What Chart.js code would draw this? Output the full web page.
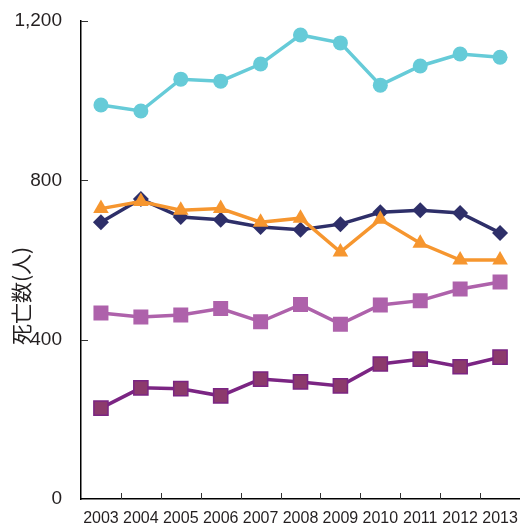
<!DOCTYPE html>
<html lang="ja">
<head>
    <meta charset="UTF-8">
    <title>死亡数の推移</title>
    <script src="https://cdn.jsdelivr.net/npm/chart.js"></script>
    <style>
        html, body {
            margin: 0;
            padding: 0;
            background: white;
        }
        canvas {
            display: block;
        }
    </style>
</head>
<body>

    <canvas id="deathChart" width="520" height="526"></canvas>

    <script>
        // data
        const years = ['2003', '2004', '2005', '2006', '2007', '2008', '2009', '2010', '2011', '2012', '2013'];
        const cyanValues   = [989, 974, 1054, 1049, 1092, 1165, 1145, 1039, 1087, 1117, 1109];
        const navyValues   = [695, 753, 708, 701, 683, 676, 690, 720, 725, 718, 668];
        const orangeValues = [729, 747, 725, 729, 695, 705, 620, 702, 642, 600, 600];
        const pinkValues   = [467, 457, 462, 478, 445, 488, 439, 487, 498, 527, 545];
        const purpleValues = [228, 279, 277, 259, 301, 294, 284, 339, 351, 332, 356];
        const yTicks = [0, 400, 800, 1200];
        const yTitle = '死亡数(人)';

        const numFont = '"Liberation Sans", Arial, sans-serif';
        const textColor = '#231f20';

        // inward tick marks + the rotated y title
        const axisExtras = {
            id: 'axisExtras',
            afterDraw(chart) {
                const ctx = chart.ctx;
                const area = chart.chartArea;
                const x = chart.scales.x;
                const y = chart.scales.y;
                ctx.save();
                ctx.strokeStyle = '#333333';
                ctx.lineWidth = 1;
                yTicks.forEach(v => {
                    if (v === 0) return;
                    const py = Math.round(y.getPixelForValue(v)) + 0.5;
                    ctx.beginPath();
                    ctx.moveTo(area.left, py);
                    ctx.lineTo(area.left + 7, py);
                    ctx.stroke();
                });
                for (let i = 1; i < years.length; i++) {
                    const px = Math.round((x.getPixelForValue(i - 1) + x.getPixelForValue(i)) / 2) + 0.5;
                    ctx.beginPath();
                    ctx.moveTo(px, area.bottom);
                    ctx.lineTo(px, area.bottom - 6);
                    ctx.stroke();
                }
                // y axis title
                ctx.translate(21, 296);
                ctx.rotate(-Math.PI / 2);
                ctx.fillStyle = textColor;
                ctx.font = '21px "Noto Sans CJK JP", sans-serif';
                ctx.textAlign = 'center';
                ctx.textBaseline = 'middle';
                ctx.fillText(yTitle, 0, 0);
                ctx.restore();
            }
        };

        const ctx = document.getElementById('deathChart').getContext('2d');
        const deathChart = new Chart(ctx, {
            type: 'line',
            data: {
                labels: years,
                datasets: [
                    {
                        data: orangeValues,
                        borderColor: '#f6962f',
                        backgroundColor: '#f6962f',
                        borderWidth: 3.5,
                        pointStyle: 'triangle',
                        pointRadius: 9,
                        pointBorderWidth: 0,
                        order: 1
                    },
                    {
                        data: navyValues,
                        borderColor: '#2e2f69',
                        backgroundColor: '#2e2f69',
                        borderWidth: 3.5,
                        pointStyle: 'rectRot',
                        pointRadius: 8,
                        pointBorderWidth: 0,
                        order: 2
                    },
                    {
                        data: cyanValues,
                        borderColor: '#66cbd8',
                        backgroundColor: '#66cbd8',
                        borderWidth: 3.5,
                        pointStyle: 'circle',
                        pointRadius: 7.5,
                        pointBorderWidth: 0,
                        order: 3
                    },
                    {
                        data: pinkValues,
                        borderColor: '#ae62ab',
                        backgroundColor: '#ae62ab',
                        borderWidth: 3.5,
                        pointStyle: 'rect',
                        pointRadius: 10.6,
                        pointBorderWidth: 0,
                        order: 4
                    },
                    {
                        data: purpleValues,
                        borderColor: '#7b2583',
                        backgroundColor: '#8c3a6c',
                        borderWidth: 3.5,
                        pointStyle: 'rect',
                        pointRadius: 10,
                        pointBorderWidth: 1.5,
                        order: 5
                    }
                ]
            },
            options: {
                responsive: false,
                animation: false,
                layout: { autoPadding: false, padding: { top: 21, right: 0, left: 0, bottom: 0 } },
                plugins: {
                    legend: { display: false },
                    tooltip: { enabled: false }
                },
                elements: { line: { tension: 0 } },
                scales: {
                    x: {
                        offset: true,
                        grid: { display: true, drawOnChartArea: false, drawTicks: false, color: 'transparent' },
                        border: { display: true, color: '#000000', width: 1.5 },
                        ticks: {
                            color: textColor,
                            font: { family: numFont, size: 16 },
                            padding: 10,
                            maxRotation: 0,
                            autoSkip: false
                        },
                        afterFit(scale) {
                            scale.height = 27;
                            scale.paddingLeft = 0;
                            scale.paddingRight = 0;
                        }
                    },
                    y: {
                        min: 0,
                        max: 1200,
                        afterBuildTicks(scale) { scale.ticks = yTicks.map(v => ({ value: v })); },
                        grid: { display: true, drawOnChartArea: false, drawTicks: false, color: 'transparent' },
                        border: { display: true, color: '#000000', width: 1.5 },
                        ticks: {
                            color: textColor,
                            font: { family: numFont, size: 19 },
                            padding: 19,
                            callback: v => v.toLocaleString('en-US')
                        },
                        afterFit(scale) {
                            scale.width = 81;
                            scale.paddingTop = 0;
                            scale.paddingBottom = 0;
                        }
                    }
                }
            },
            plugins: [axisExtras]
        });
    </script>
</body>
</html>
